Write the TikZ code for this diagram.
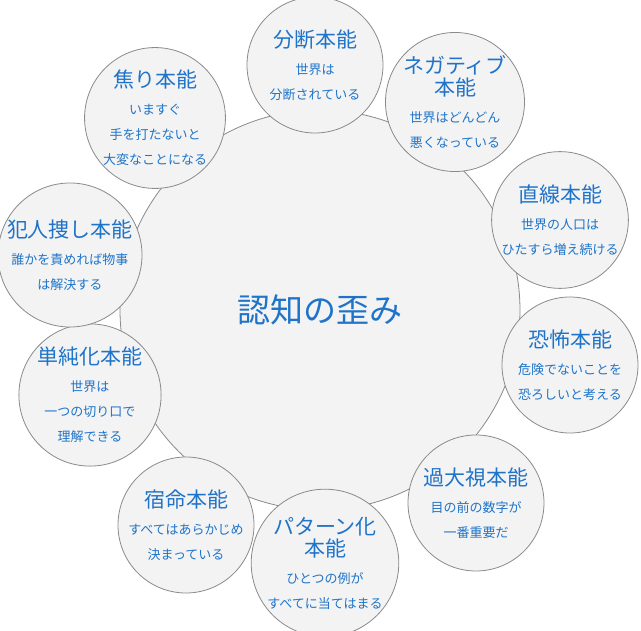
\documentclass[tikz,border=0pt]{standalone}
\usepackage{fontspec}
\setmainfont{Noto Sans CJK JP}
\definecolor{txt}{HTML}{1F74C9}
\definecolor{fillc}{HTML}{F3F3F3}
\definecolor{linec}{HTML}{8A8A8A}
\begin{document}
\begin{tikzpicture}[x=1pt,y=-1pt,
  big/.style={circle,draw=linec,fill=fillc,line width=0.8pt,minimum size=400pt,inner sep=0pt},
  sm/.style={circle,draw=linec,fill=fillc,line width=0.8pt,minimum size=136pt,inner sep=0pt,align=center,text=txt,font=\fontsize{13}{25}\selectfont}]
\useasboundingbox (0,0) rectangle (641,631);
\node[big] (c) at (320,310) {};
\node[text=txt,font=\fontsize{33}{38}\selectfont] (ct) at (320,310) {認知の歪み};
\newcommand{\hh}[1]{{\fontsize{21}{25}\selectfont #1}}
\node[sm] (a) at (315,65) {\hh{分断本能}\\[2pt]世界は\\分断されている};
\node[sm] (b) at (455,102) {\hh{ネガティブ}\\[-3pt]\hh{本能}\\[2pt]世界はどんどん\\悪くなっている};
\node[sm] (d) at (560,220) {\hh{直線本能}\\[2pt]世界の人口は\\ひたすら増え続ける};
\node[sm] (e) at (570,365) {\hh{恐怖本能}\\[2pt]危険でないことを\\恐ろしいと考える};
\node[sm] (f) at (476,503) {\hh{過大視本能}\\[2pt]目の前の数字が\\一番重要だ};
\node[sm] (g) at (325,563) {\hh{パターン化}\\[-3pt]\hh{本能}\\[2pt]ひとつの例が\\すべてに当てはまる};
\node[sm] (h) at (186,525) {\hh{宿命本能}\\[2pt]すべてはあらかじめ\\決まっている};
\node[sm] (i) at (90,395) {\hh{単純化本能}\\[2pt]世界は\\一つの切り口で\\理解できる};
\node[sm] (j) at (70,255) {\hh{犯人捜し本能}\\[2pt]誰かを責めれば物事\\は解決する};
\node[sm] (k) at (155,118) {\hh{焦り本能}\\[2pt]いますぐ\\手を打たないと\\大変なことになる};
\end{tikzpicture}
\end{document}
